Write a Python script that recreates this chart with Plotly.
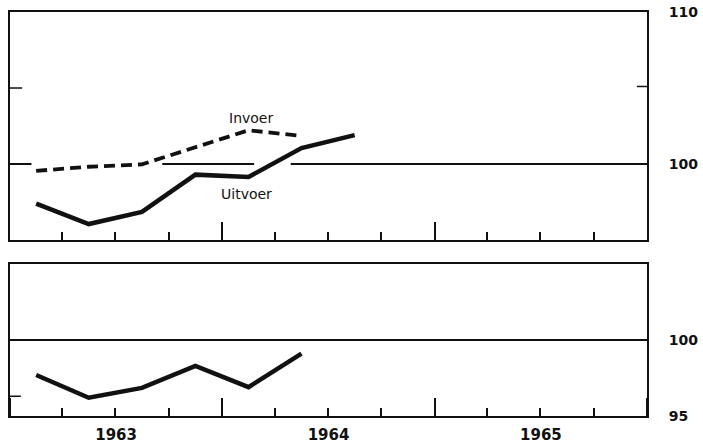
import pandas as pd
import plotly.graph_objects as go

# Quarterly observations (plotted at the middle of each quarter)
quarters_export = ["1963Q1", "1963Q2", "1963Q3", "1963Q4", "1964Q1", "1964Q2", "1964Q3"]
uitvoer = [97.4, 96.05, 96.85, 99.3, 99.15, 101.05, 101.9]

quarters_import = ["1963Q1", "1963Q2", "1963Q3", "1963Q4", "1964Q1", "1964Q2"]
invoer = [99.55, 99.82, 99.98, 101.08, 102.22, 101.85]

quarters_ratio = ["1963Q1", "1963Q2", "1963Q3", "1963Q4", "1964Q1", "1964Q2"]
ratio = [97.7, 96.2, 96.85, 98.3, 96.9, 99.1]

top_ticks = [100, 110]
top_ticktext = ["100", "110"]
bottom_ticks = [95, 100]
bottom_ticktext = ["95", "100"]

# Pieces of the 100-line in the upper panel (broken where the curves pass)
base_segments = [("1963-01-01", "1963-02-07"), ("1963-09-20", "1964-02-25"), ("1964-04-28", "1966-01-01")]


def mid_quarter(qs):
    idx = pd.PeriodIndex(qs, freq="Q")
    return idx.start_time + (idx.end_time - idx.start_time) / 2


INK = "#111111"
FONT = "DejaVu Sans"

fig = go.Figure()

fig.add_trace(go.Scatter(
    x=mid_quarter(quarters_import), y=invoer, mode="lines",
    line=dict(color=INK, width=3.8, dash="11px,6px"),
    xaxis="x", yaxis="y", showlegend=False, hoverinfo="skip"))
fig.add_trace(go.Scatter(
    x=mid_quarter(quarters_export), y=uitvoer, mode="lines",
    line=dict(color=INK, width=4.5),
    xaxis="x", yaxis="y", showlegend=False, hoverinfo="skip"))
fig.add_trace(go.Scatter(
    x=mid_quarter(quarters_ratio), y=ratio, mode="lines",
    line=dict(color=INK, width=4.5),
    xaxis="x2", yaxis="y2", showlegend=False, hoverinfo="skip"))

shapes = []
for x0, x1 in base_segments:
    shapes.append(dict(type="line", xref="x", yref="y", x0=x0, x1=x1, y0=100, y1=100,
                       line=dict(color=INK, width=2)))
shapes.append(dict(type="line", xref="x2 domain", yref="y2", x0=0, x1=1, y0=100, y1=100,
                   line=dict(color=INK, width=2)))
# small inner marks on the vertical frame
for xr, yr, xa, xb, yv in [("x domain", "y", 0, 0.019, 105), ("x domain", "y", 0.984, 1, 105.1),
                           ("x2 domain", "y2", 0, 0.017, 96.3)]:
    shapes.append(dict(type="line", xref=xr, yref=yr, x0=xa, x1=xb, y0=yv, y1=yv,
                       line=dict(color=INK, width=1.5)))

xcommon = dict(
    type="date", range=["1963-01-01", "1966-01-01"], showgrid=False, zeroline=False,
    showline=True, linecolor=INK, linewidth=2, mirror=True, automargin=False,
    dtick="M12", tick0="1963-01-01", ticks="inside", ticklen=18, tickwidth=1.5, tickcolor=INK,
    minor=dict(dtick="M3", tick0="1963-01-01", ticks="inside", ticklen=8, tickwidth=1.5, tickcolor=INK),
)
ycommon = dict(
    side="right", showgrid=False, zeroline=False, showline=True, linecolor=INK, linewidth=2,
    mirror=True, ticks="", ticklabelstandoff=17, automargin=False,
    tickfont=dict(family=FONT, size=14, color=INK, weight="bold"),
)

fig.update_layout(
    width=703, height=445,
    margin=dict(l=10, r=56, t=12, b=29),
    paper_bgcolor="white", plot_bgcolor="white",
    xaxis=dict(**xcommon, anchor="y", domain=[0, 1], showticklabels=False),
    yaxis=dict(**ycommon, anchor="x", domain=[0.4356, 1], range=[95, 110],
               tickmode="array", tickvals=top_ticks, ticktext=top_ticktext),
    xaxis2=dict(**xcommon, anchor="y2", domain=[0, 1], showticklabels=True,
                ticklabelmode="period", tickformat="%Y", ticklabelstandoff=4,
                tickfont=dict(family=FONT, size=15, color=INK, weight="bold")),
    yaxis2=dict(**ycommon, anchor="x2", domain=[0, 0.3762], range=[95, 105],
                tickmode="array", tickvals=bottom_ticks, ticktext=bottom_ticktext),
    shapes=shapes,
    annotations=[
        dict(text="Invoer", x="1964-02-20", y=103.05, xref="x", yref="y", showarrow=False,
             font=dict(family=FONT, size=14, color=INK)),
        dict(text="Uitvoer", x="1964-02-12", y=98.05, xref="x", yref="y", showarrow=False,
             font=dict(family=FONT, size=14, color=INK)),
    ],
)

fig.write_html("out.html")
